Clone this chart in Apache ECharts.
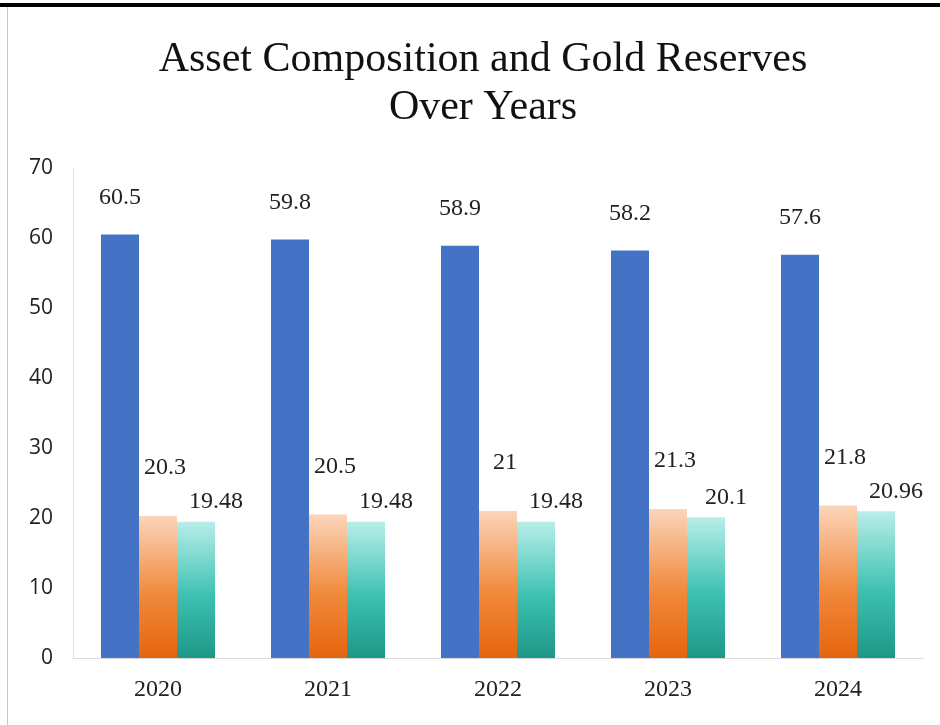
<!DOCTYPE html>
<html>
<head>
<meta charset="utf-8">
<script src="https://cdn.jsdelivr.net/npm/echarts@6/dist/echarts.min.js"></script>
<style>
  html, body { margin: 0; padding: 0; background: #fff; }
  #main { width: 940px; height: 725px; }
</style>
</head>
<body>
<div id="main"></div>
<script>
// years on the x axis
var years = ['2020', '2021', '2022', '2023', '2024'];
// three series
var totalAssets = [60.5, 59.8, 58.9, 58.2, 57.6];
var foreignAssets = [20.3, 20.5, 21, 21.3, 21.8];
var goldReserves = [19.48, 19.48, 19.48, 20.1, 20.96];

var serif = '"Liberation Serif", "DejaVu Serif", serif';

function vGrad(top, mid, bottom) {
	return new echarts.graphic.LinearGradient(0, 0, 0, 1, [
		{ offset: 0, color: top },
		{ offset: 0.55, color: mid },
		{ offset: 1, color: bottom }
	]);
}

var labelStyle = {
	show: true,
	position: 'top',
	fontFamily: serif,
	fontSize: 24,
	color: '#222'
};

var option = {
	backgroundColor: '#fff',
	animation: false,
	title: {
		text: 'Asset Composition and Gold Reserves\nOver Years',
		left: 478,
		textAlign: 'center',
		top: 31,
		textStyle: {
			fontFamily: serif,
			fontWeight: 'normal',
			fontSize: 42,
			lineHeight: 48,
			color: '#111'
		}
	},
	grid: {
		left: 73,
		right: 17,
		top: 168,
		bottom: 67
	},
	xAxis: {
		type: 'category',
		data: years,
		axisLine: { lineStyle: { color: '#d9d9d9', width: 1 } },
		axisTick: { show: false },
		axisLabel: {
			margin: 20,
			fontFamily: serif,
			fontSize: 24,
			color: '#222'
		}
	},
	yAxis: {
		type: 'value',
		min: 0,
		max: 70,
		interval: 10,
		axisLine: { show: true, lineStyle: { color: '#e0e0e0', width: 1 } },
		axisTick: { show: false },
		splitLine: { show: false },
		axisLabel: {
			margin: 20,
			fontFamily: '"Open Sans", sans-serif',
			fontSize: 21,
			color: '#222'
		}
	},
	series: [
		{
			name: 'Total Assets',
			type: 'bar',
			data: totalAssets,
			barWidth: 38,
			barGap: '0%',
			itemStyle: { color: '#4472c4' },
			label: Object.assign({}, labelStyle, { distance: 25 })
		},
		{
			name: 'Foreign Assets',
			type: 'bar',
			data: foreignAssets,
			barWidth: 38,
			itemStyle: { color: vGrad('#fbd5ba', '#f08a3c', '#e6640e') },
			label: Object.assign({}, labelStyle, { distance: 36, offset: [7, 0] })
		},
		{
			name: 'Gold Reserves',
			type: 'bar',
			data: goldReserves,
			barWidth: 38,
			itemStyle: { color: vGrad('#b8eee9', '#3cc0b1', '#1f9787') },
			label: Object.assign({}, labelStyle, { distance: 8, offset: [20, 0] })
		}
	],
	graphic: [
		// frame edges seen in the picture
		{ type: 'rect', shape: { x: 0, y: 3, width: 940, height: 4 }, style: { fill: '#000' } },
		{ type: 'rect', shape: { x: 7, y: 7, width: 1, height: 718 }, style: { fill: '#c8c8c8' } }
	]
};

var chart = echarts.init(document.getElementById('main'));
chart.setOption(option);
</script>
</body>
</html>
